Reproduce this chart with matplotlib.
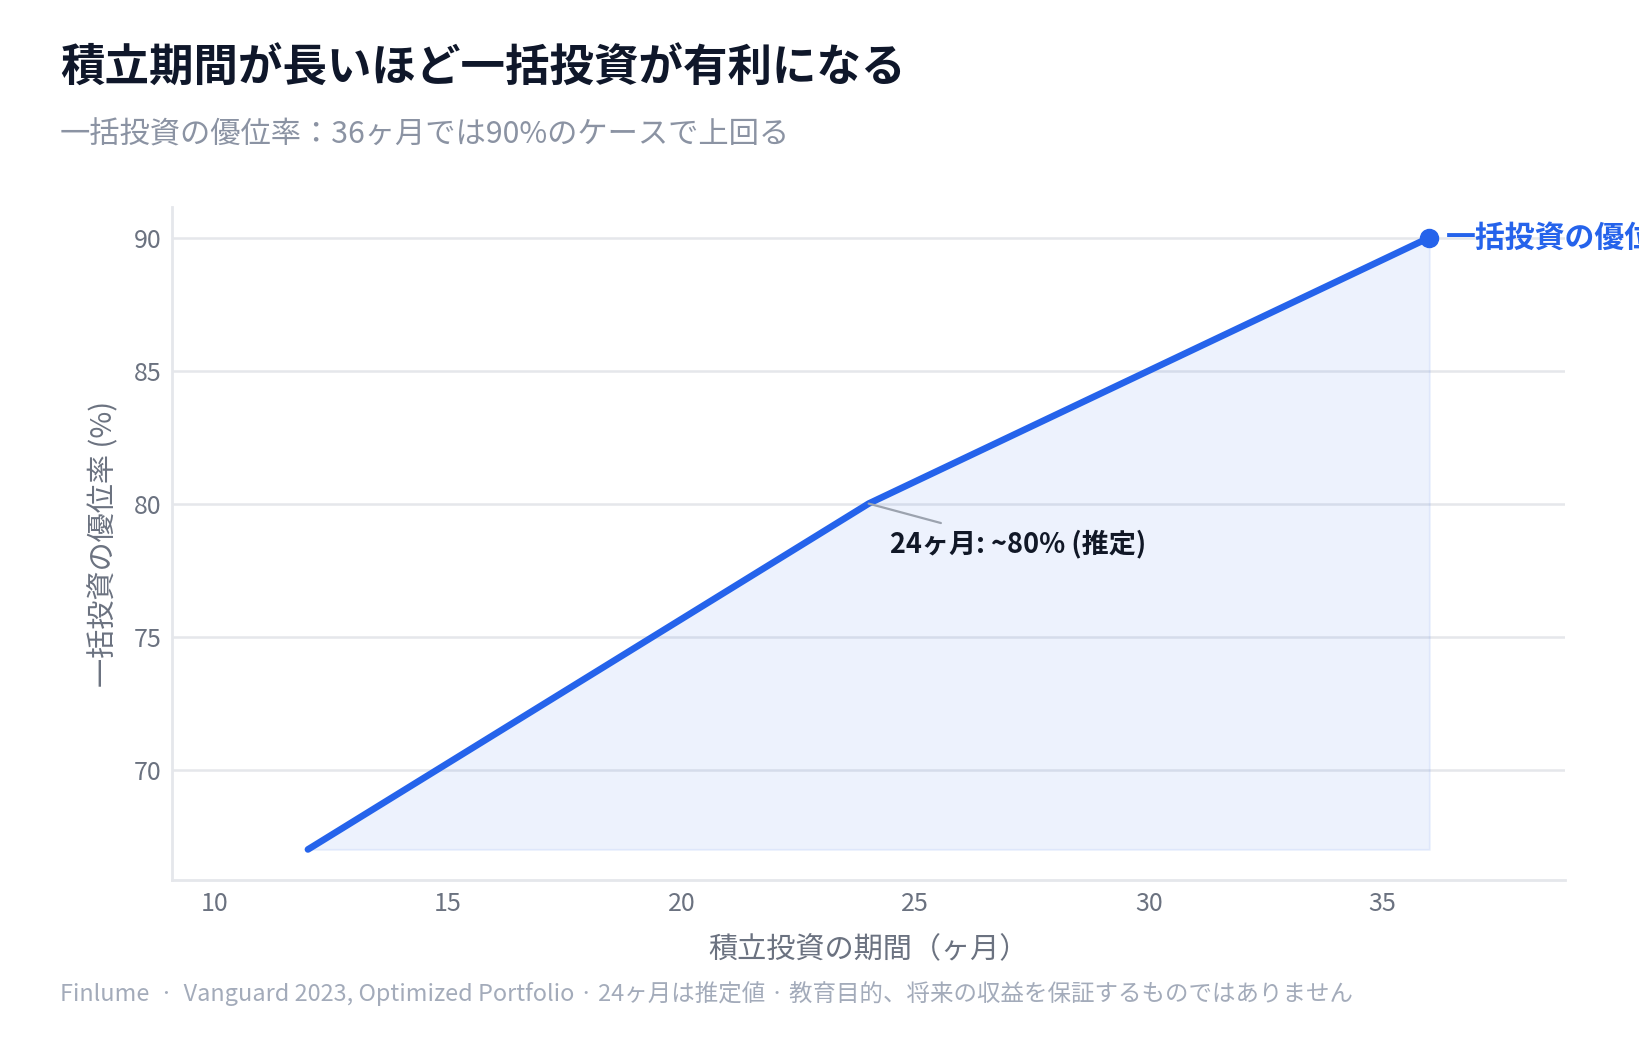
import matplotlib
matplotlib.use('Agg')
import matplotlib.pyplot as plt

plt.rcParams['font.family'] = ['Noto Sans CJK JP', 'DejaVu Sans']

# data
months = [12, 24, 36]
win_rate = [67, 80, 90]
x_ticks = [10, 15, 20, 25, 30, 35]
y_ticks = [70, 75, 80, 85, 90]

title = '積立期間が長いほど一括投資が有利になる'
subtitle = '一括投資の優位率：36ヶ月では90%のケースで上回る'
xlabel = '積立投資の期間（ヶ月）'
ylabel = '一括投資の優位率 (%)'
series_label = '一括投資の優位率'
note_text = '24ヶ月: ~80% (推定)'
footer = 'Finlume  ·  Vanguard 2023, Optimized Portfolio · 24ヶ月は推定値 · 教育目的、将来の収益を保証するものではありません'

blue = '#2563eb'
grid_c = '#e5e7eb'
tick_c = '#6b7280'

fig = plt.figure(figsize=(16.39, 10.40), dpi=100, facecolor='white')
ax = fig.add_axes([0.1052, 0.1538, 0.8496, 0.6472])

ax.fill_between(months, win_rate, min(win_rate), color=blue, alpha=0.08,
                edgecolor=blue, linewidth=1.5, zorder=1)
ax.plot(months, win_rate, color=blue, linewidth=4.8, solid_capstyle='round', zorder=3)
ax.plot(months[-1], win_rate[-1], 'o', color=blue, markersize=13, zorder=4)

ax.set_xlim(9.1, 38.9)
ax.set_ylim(65.85, 91.15)
ax.set_xticks(x_ticks)
ax.set_yticks(y_ticks)
ax.tick_params(length=0, labelsize=18, labelcolor=tick_c, pad=8)
ax.grid(axis='y', color=grid_c, linewidth=1.8, zorder=0)
ax.set_axisbelow(True)
for s in ['top', 'right']:
    ax.spines[s].set_visible(False)
for s in ['left', 'bottom']:
    ax.spines[s].set_color(grid_c)
    ax.spines[s].set_linewidth(2)

ax.set_xlabel(xlabel, fontsize=21, color=tick_c, labelpad=13)
ax.set_ylabel(ylabel, fontsize=21, color=tick_c, labelpad=10)

# end label (runs off the right edge, as in the original)
ax.annotate(series_label, (months[-1], win_rate[-1]), xytext=(12, 0),
            textcoords='offset points', va='center', ha='left',
            fontsize=21.5, fontweight='bold', color=blue, annotation_clip=False)

# estimate note at 24 months
ax.annotate('', (months[1], win_rate[1]), xytext=(52, -14), textcoords='offset points',
            arrowprops=dict(arrowstyle='-', color='#9ca3af', linewidth=1.6, shrinkA=0, shrinkB=0))
ax.annotate(note_text, (months[1], win_rate[1]), xytext=(15, -29), textcoords='offset points',
            va='center', ha='left', fontsize=19.5, fontweight='bold', color='#111827')

fig.text(0.0366, 0.934, title, fontsize=32, fontweight='bold', color='#0f172a', va='center')
fig.text(0.0366, 0.870, subtitle, fontsize=21.8, color='#8b93a3', va='center')
fig.text(0.0366, 0.045, footer, fontsize=16.9, color='#a3abba', va='center')

fig.savefig('out.png', dpi=100, facecolor='white')
